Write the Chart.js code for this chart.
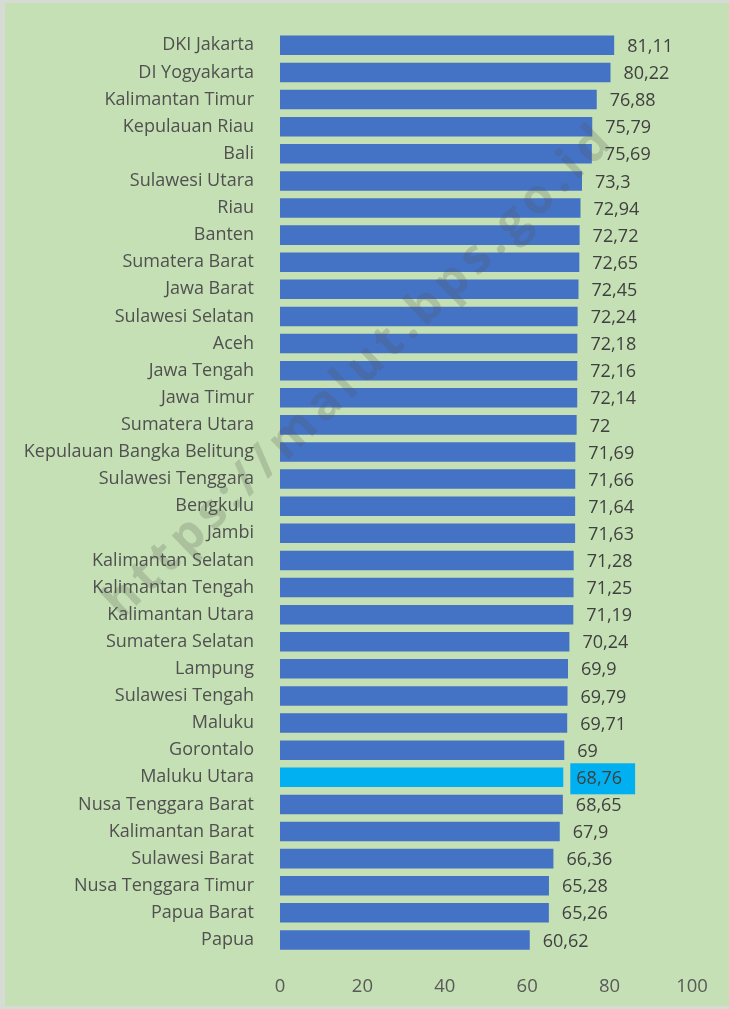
<!DOCTYPE html>
<html>
<head>
<meta charset="utf-8">
<script src="https://cdn.jsdelivr.net/npm/chart.js@4.4.1/dist/chart.umd.min.js"></script>
<style>
  html, body { margin: 0; padding: 0; background: #d6dcd4; }
  #wrap { position: absolute; left: 5px; top: 3px; width: 724px; height: 1003px; background: #c5e0b4; }
</style>
</head>
<body>
<div id="wrap"><canvas id="chart" width="724" height="1003"></canvas></div>
<script>
const provinces = [
  'DKI Jakarta', 'DI Yogyakarta', 'Kalimantan Timur', 'Kepulauan Riau', 'Bali',
  'Sulawesi Utara', 'Riau', 'Banten', 'Sumatera Barat', 'Jawa Barat',
  'Sulawesi Selatan', 'Aceh', 'Jawa Tengah', 'Jawa Timur', 'Sumatera Utara',
  'Kepulauan Bangka Belitung', 'Sulawesi Tenggara', 'Bengkulu', 'Jambi', 'Kalimantan Selatan',
  'Kalimantan Tengah', 'Kalimantan Utara', 'Sumatera Selatan', 'Lampung', 'Sulawesi Tengah',
  'Maluku', 'Gorontalo', 'Maluku Utara', 'Nusa Tenggara Barat', 'Kalimantan Barat',
  'Sulawesi Barat', 'Nusa Tenggara Timur', 'Papua Barat', 'Papua'
];
const values = [
  81.11, 80.22, 76.88, 75.79, 75.69,
  73.3, 72.94, 72.72, 72.65, 72.45,
  72.24, 72.18, 72.16, 72.14, 72,
  71.69, 71.66, 71.64, 71.63, 71.28,
  71.25, 71.19, 70.24, 69.9, 69.79,
  69.71, 69, 68.76, 68.65, 67.9,
  66.36, 65.28, 65.26, 60.62
];
const highlight = 'Maluku Utara';
const xTicks = [0, 20, 40, 60, 80, 100];

const barColor = '#4472c4';
const highlightColor = '#00b0f0';
const textColor = '#404040';
const fontFamily = '"Open Sans", "Noto Sans", sans-serif';

const formatValue = (v) => String(v).replace('.', ',');

const valueLabels = {
  id: 'valueLabels',
  afterDatasetsDraw(chart) {
    const { ctx } = chart;
    const meta = chart.getDatasetMeta(0);
    ctx.save();
    ctx.font = `18px ${fontFamily}`;
    ctx.textBaseline = 'middle';
    ctx.textAlign = 'left';
    meta.data.forEach((bar, i) => {
      const text = formatValue(values[i]);
      const x = bar.x + 13;
      const y = bar.y + 1.5;
      if (provinces[i] === highlight) {
        const w = ctx.measureText(text).width;
        ctx.fillStyle = highlightColor;
        ctx.fillRect(bar.x + 7, y - 15.5, w + 19, 31);
      }
      ctx.fillStyle = textColor;
      ctx.fillText(text, x, y);
    });
    ctx.restore();
  },
};

const watermark = {
  id: 'watermark',
  afterDraw(chart) {
    const { ctx } = chart;
    ctx.save();
    ctx.translate(355, 368);
    ctx.rotate(-44 * Math.PI / 180);
    ctx.font = `bold 48px ${fontFamily}`;
    ctx.letterSpacing = '6px';
    ctx.textAlign = 'center';
    ctx.textBaseline = 'middle';
    ctx.fillStyle = 'rgba(80, 80, 80, 0.22)';
    ctx.fillText('https://malut.bps.go.id', 0, 0);
    ctx.restore();
  },
};

new Chart(document.getElementById('chart'), {
  type: 'bar',
  data: {
    labels: provinces,
    datasets: [{
      data: values,
      backgroundColor: provinces.map((p) => (p === highlight ? highlightColor : barColor)),
      borderWidth: 0,
      barPercentage: 0.72,
      categoryPercentage: 1,
    }],
  },
  options: {
    indexAxis: 'y',
    responsive: false,
    animation: false,
    layout: {
      padding: { top: 26.5, bottom: 0, left: 0, right: 37 },
    },
    plugins: {
      legend: { display: false },
      tooltip: { enabled: false },
    },
    scales: {
      x: {
        min: 0,
        max: 100,
        afterBuildTicks(scale) {
          scale.ticks = xTicks.map((value) => ({ value }));
        },
        afterFit(scale) {
          scale.height = 52.5;
        },
        grid: { display: false },
        border: { display: false },
        ticks: {
          color: '#595959',
          padding: 14,
          font: { family: fontFamily, size: 18.5 },
        },
      },
      y: {
        afterFit(scale) {
          scale.width = 275;
        },
        grid: { display: false },
        border: { display: false },
        ticks: {
          color: '#505050',
          padding: 18,
          autoSkip: false,
          font: { family: fontFamily, size: 18 },
        },
      },
    },
  },
  plugins: [valueLabels, watermark],
});
</script>
</body>
</html>
